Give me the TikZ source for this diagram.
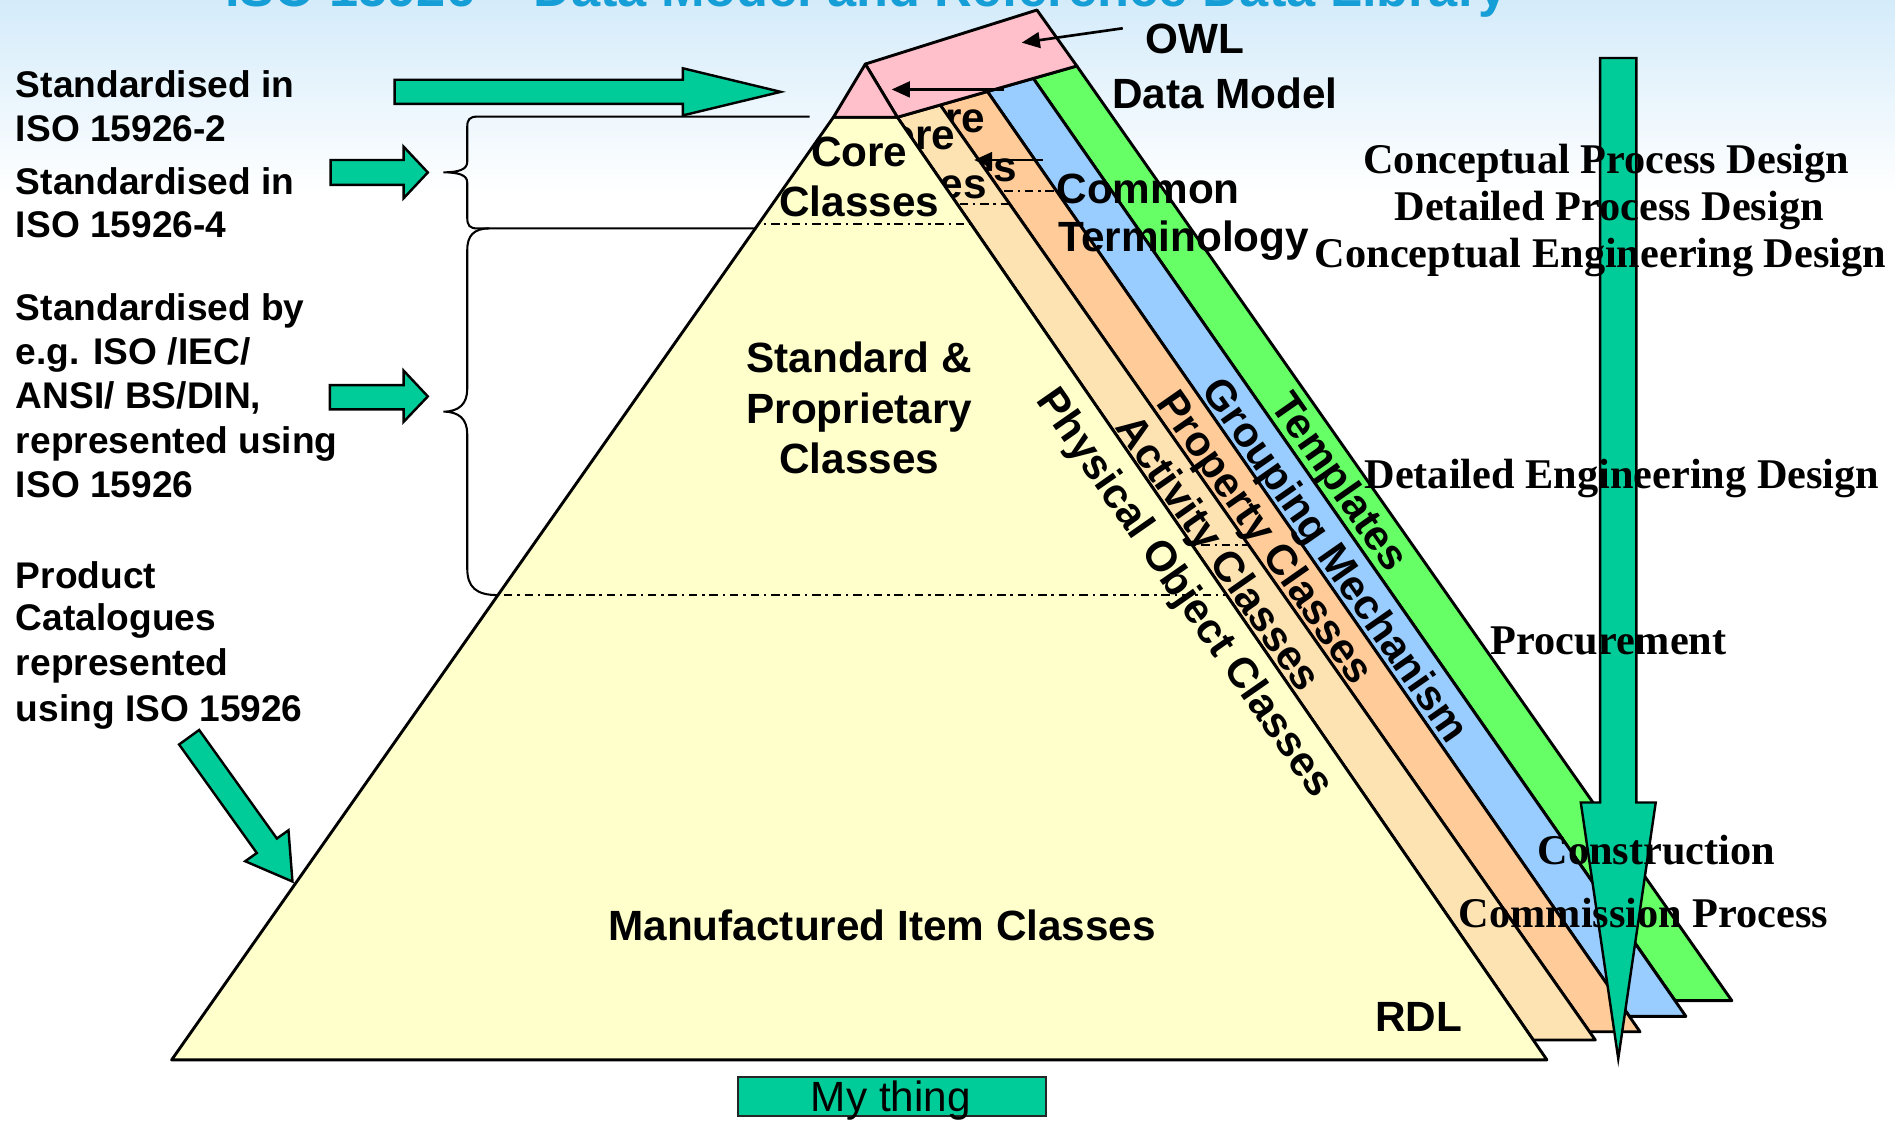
\documentclass[tikz,border=0pt]{standalone}
\usepackage{fontspec}
\setmainfont{Liberation Sans}
\newfontfamily\phasefont{Liberation Serif}
\usetikzlibrary{arrows.meta}

\definecolor{pinkroof}{RGB}{255,192,203}
\definecolor{rdlyellow}{RGB}{255,255,204}
\definecolor{peach}{RGB}{253,226,178}
\definecolor{apricot}{RGB}{255,204,153}
\definecolor{skyblue}{RGB}{153,204,255}
\definecolor{lime}{RGB}{102,255,102}
\definecolor{jade}{RGB}{0,204,153}
\definecolor{titlecyan}{RGB}{22,158,214}
\definecolor{haze}{RGB}{212,235,250}

\begin{document}
\begin{tikzpicture}[x=1pt,y=-1pt,
  outline/.style={draw=black,line width=2.4pt,line join=round},
  blockarrow/.style={fill=jade,draw=black,line width=2pt,line join=miter},
  bracepath/.style={draw=black,line width=1.7pt},
  dashdot/.style={line width=1.9pt,dash pattern=on 7pt off 4pt on 2pt off 4pt},
  pointer/.style={line width=2.2pt,-{Triangle[length=15pt,width=13pt]}},
  titletext/.style={anchor=base west,inner sep=0pt,text=titlecyan,
    font=\fontsize{43.3}{50}\selectfont\bfseries},
  lefttext/.style={anchor=base west,inner sep=0pt,
    font=\fontsize{30.7}{36.8}\selectfont\bfseries},
  pyrtext/.style={anchor=base,inner sep=0pt,
    font=\fontsize{35}{42}\selectfont\bfseries},
  tagtext/.style={anchor=base west,inner sep=0pt,
    font=\fontsize{35}{42}\selectfont\bfseries},
  sidetext/.style={anchor=base,inner sep=0pt,rotate=-55.1,
    font=\fontsize{35}{42}\selectfont\bfseries},
  phasetext/.style={anchor=base,inner sep=0pt,
    font=\phasefont\fontsize{35}{40}\selectfont\bfseries},
]

\useasboundingbox (0,0) rectangle (1568,927);
\fill[white] (0,0) rectangle (1568,927);
\shade[top color=haze,bottom color=white] (0,0) rectangle (1568,160);

% heading, partly above the page
\node[titletext] (title) at (186,5) {ISO 15926 – Data Model and Reference Data Library};

% ---------- pyramid geometry ----------
\coordinate (apex) at (716,53);
\coordinate (roofT) at (858,8.3);
\coordinate (T0) at (742.5,97);
\coordinate (T1) at (778,86.9);
\coordinate (T2) at (817,75.7);
\coordinate (T3) at (855,64.9);
\coordinate (T4) at (891,54.6);
\coordinate (B0) at (1280,877);
\coordinate (B1) at (1320,860.5);
\coordinate (B2) at (1357,853.7);
\coordinate (B3) at (1395,841);
\coordinate (B4) at (1433,828);
\coordinate (S1) at (1268.6,860.5);
\coordinate (S2) at (1315.2,853.7);
\coordinate (S3) at (1348.2,841);
\coordinate (S4) at (1386.1,828);
\coordinate (Ytl) at (689.6,97);
\coordinate (Ybl) at (142,877);

% side layers, back to front
\filldraw[outline,fill=lime] (T3)--(T4)--(B4)--(S4)--cycle;
\filldraw[outline,fill=skyblue] (T2)--(T3)--(B3)--(S3)--cycle;

\fill[apricot] (T1)--(T2)--(B2)--(S2)--cycle;
\begin{scope}
  \clip (T1)--(T2)--(B2)--(S2)--cycle;
  \node[pyrtext] (coreB) at (775.5,109.5) {Core};
  \node[pyrtext] (classesB) at (775.5,150.5) {Classes};
  \draw[dashdot] (780,157.8) -- (900,157.8);
\end{scope}
\draw[outline] (T1)--(T2)--(B2)--(S2)--cycle;

\fill[peach] (T0)--(T1)--(B1)--(S1)--cycle;
\begin{scope}
  \clip (T0)--(T1)--(B1)--(S1)--cycle;
  \node[pyrtext] (coreA) at (750.5,123.5) {Core};
  \node[pyrtext] (classesA) at (750.5,164.5) {Classes};
  \draw[dashdot] (760,169) -- (880,169);
  \draw[dashdot] (960,451) -- (1080,451);
\end{scope}
\draw[outline] (T0)--(T1)--(B1)--(S1)--cycle;

% front face
\filldraw[outline,fill=rdlyellow] (Ytl)--(T0)--(B0)--(Ybl)--cycle;
\begin{scope}
  \clip (Ytl)--(T0)--(B0)--(Ybl)--cycle;
  \draw[dashdot] (400,185.5) -- (1100,185.5);
  \draw[dashdot] (400,492.4) -- (1100,492.4);
\end{scope}

% top
\filldraw[outline,fill=pinkroof] (apex)--(roofT)--(T4)--(T0)--cycle;
\filldraw[outline,fill=pinkroof] (apex)--(Ytl)--(T0)--cycle;

% ---------- braces ----------
\draw[bracepath] (670,96.5) -- (395,96.5)
  .. controls (388.5,96.5) and (386.6,99) .. (386.6,105)
  -- (386.6,134)
  .. controls (386.6,140) and (380,142.6) .. (366.8,142.6)
  .. controls (380,142.6) and (386.6,145) .. (386.6,151)
  -- (386.6,180)
  .. controls (386.6,186.5) and (388.5,189) .. (395,189)
  -- (626,189);
\draw[bracepath] (405,189)
  .. controls (392,189) and (386.6,195) .. (386.6,207)
  -- (386.6,322)
  .. controls (386.6,334) and (380,340.6) .. (366.8,340.6)
  .. controls (380,340.6) and (386.6,347) .. (386.6,359)
  -- (386.6,470)
  .. controls (386.6,486) and (394,492.4) .. (412,492.4);

% ---------- block arrows ----------
\filldraw[blockarrow] (326.5,66)--(565,66)--(565,56.5)--(646,76)--(565,95.5)--(565,86)--(326.5,86)--cycle;
\filldraw[blockarrow] (273.6,132.4)--(334,132.4)--(334,121.4)--(354,142.7)--(334,164)--(334,153)--(273.6,153)--cycle;
\filldraw[blockarrow] (273,318.6)--(334,318.6)--(334,306.7)--(354,328)--(334,349)--(334,338.7)--(273,338.7)--cycle;
\filldraw[blockarrow] (148.2,616)--(164.8,604)--(229.1,693.8)--(238.7,687)--(242,729.4)--(202.9,712.6)--(212.5,705.8)--cycle;
\filldraw[blockarrow] (1324,48)--(1354,48)--(1354,664)--(1370,664)--(1339,876)--(1308,664)--(1324,664)--cycle;

% ---------- left notes ----------
\node[lefttext] (n1) at (13,80.8) {Standardised in};
\node[lefttext] (n2) at (13,117.2) {ISO 15926-2};
\node[lefttext] (n3) at (13,160.8) {Standardised in};
\node[lefttext] (n4) at (13,196.6) {ISO 15926-4};
\node[lefttext] (n5) at (13,264.8) {Standardised by};
\node[lefttext] (n6) at (13,302) {e.g. ISO /IEC/};
\node[lefttext] (n7) at (13,338) {ANSI/ BS/DIN,};
\node[lefttext] (n8) at (13,375) {represented using};
\node[lefttext] (n9) at (13,411.8) {ISO 15926};
\node[lefttext] (n10) at (13,486.6) {Product};
\node[lefttext] (n11) at (13,522) {Catalogues};
\node[lefttext] (n12) at (13,558.7) {represented};
\node[lefttext] (n13) at (13,597) {using ISO 15926};

% ---------- pyramid labels ----------
\node[pyrtext] (core) at (711,138) {Core};
\node[pyrtext] (coreclasses) at (711,179) {Classes};
\node[pyrtext] (std1) at (711,308) {Standard \&};
\node[pyrtext] (std2) at (711,350) {Proprietary};
\node[pyrtext] (std3) at (711,392) {Classes};
\node[pyrtext] (mfg) at (730,778) {Manufactured Item Classes};
\node[pyrtext] (rdl) at (1173.8,853.7) {RDL};

\node[sidetext] (phys) at (971.8,496.7) {Physical Object Classes};
\node[sidetext] (act) at (999,464.2) {Activity Classes};
\node[sidetext] (prop) at (1038,451.2) {Property Classes};
\node[sidetext] (grp) at (1096,470.2) {Grouping Mechanism};
\node[sidetext] (tpl) at (1099.3,405.2) {Templates};

% ---------- tags with pointers ----------
\node[tagtext] (owl) at (948,44) {OWL};
\node[tagtext] (dm) at (920,89.6) {Data Model};
\node[tagtext] (common) at (874,168) {Common};
\node[tagtext] (term) at (875.5,208) {Terminology};

\coordinate (owlfrom) at (929,23.4);
\coordinate (owlto) at (845.4,35.3);
\coordinate (dmfrom) at (831,74);
\coordinate (dmto) at (737.8,74);
\coordinate (ctfrom) at (863,132.4);
\coordinate (ctto) at (806,132.4);
\draw[pointer] (owlfrom) -- (owlto);
\draw[pointer] (dmfrom) -- (dmto);
\draw[pointer] (ctfrom) -- (ctto);

% ---------- life-cycle phases ----------
\node[phasetext] (ph1) at (1329,143.5) {Conceptual Process Design};
\node[phasetext] (ph2) at (1331.5,182.5) {Detailed Process Design};
\node[phasetext] (ph3) at (1324.3,221) {Conceptual Engineering Design};
\node[phasetext] (ph4) at (1342,404) {Detailed Engineering Design};
\node[phasetext] (ph5) at (1331,541.5) {Procurement};
\node[phasetext] (ph6) at (1370.5,715) {Construction};
\node[phasetext] (ph7) at (1360,767.4) {Commission Process};

% ---------- bottom box ----------
\node[draw=black!85,fill=jade,line width=1.6pt,minimum width=255pt,minimum height=32.5pt,
  inner sep=0pt,anchor=north west] (mybox) at (610,890.2) {};
\node[anchor=base,inner sep=0pt,font=\fontsize{35}{40}\selectfont] (mylabel) at (737.1,920) {My thing};

\end{tikzpicture}
\end{document}
